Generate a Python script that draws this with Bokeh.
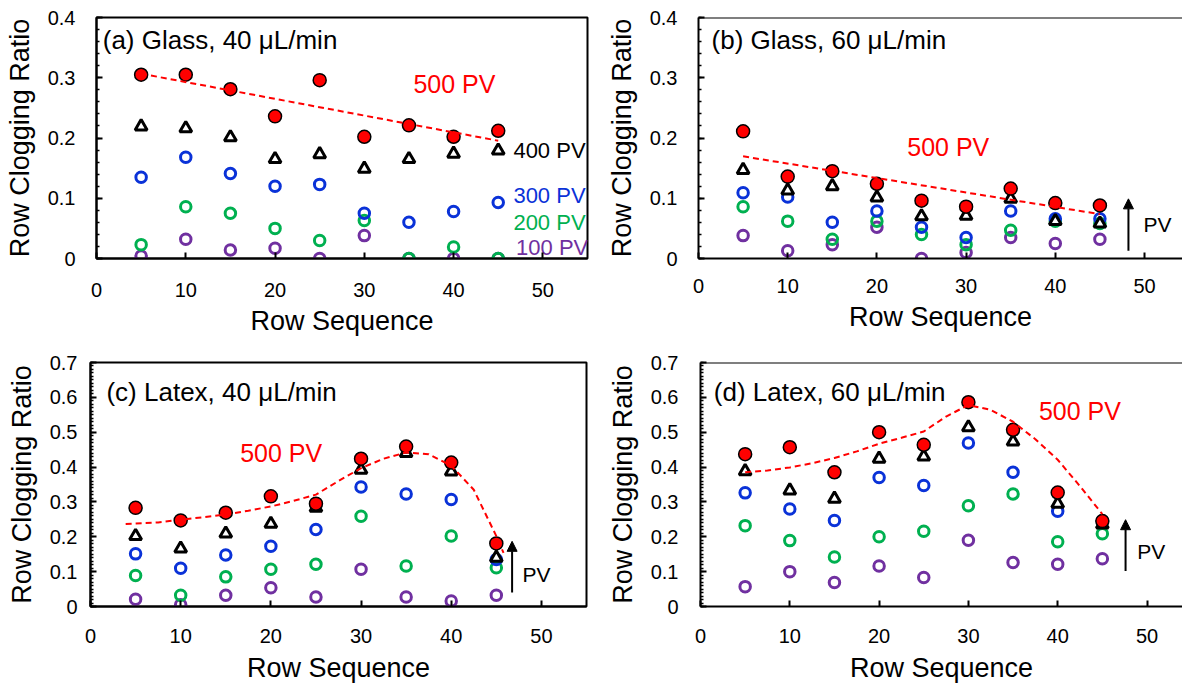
from bokeh.plotting import figure
from bokeh.layouts import column, row
from bokeh.models import (Range1d, SingleIntervalTicker, CustomJSTickFormatter, Arrow,
                          NormalHead, Span)
from bokeh.core.properties import value
from bokeh.embed import file_html
from bokeh.resources import INLINE
import numpy as np

# ---------------- data ----------------
rows = [5, 10, 15, 20, 25, 30, 35, 40, 45]

a_100 = [0.004, 0.032, 0.014, 0.017, 0.0, 0.038, 0.0, 0.0, 0.0]
a_200 = [0.023, 0.086, 0.075, 0.050, 0.030, 0.063, 0.0, 0.019, 0.0]
a_300 = [0.135, 0.168, 0.141, 0.120, 0.123, 0.075, 0.060, 0.078, 0.093]
a_400 = [0.219, 0.216, 0.201, 0.165, 0.173, 0.149, 0.165, 0.174, 0.179]
a_500 = [0.305, 0.305, 0.281, 0.236, 0.296, 0.202, 0.221, 0.202, 0.212]

b_100 = [0.038, 0.013, 0.023, 0.052, 0.0, 0.010, 0.035, 0.025, 0.032]
b_200 = [0.086, 0.062, 0.032, 0.062, 0.040, 0.023, 0.047, 0.062, 0.058]
b_300 = [0.109, 0.102, 0.060, 0.079, 0.052, 0.035, 0.079, 0.066, 0.066]
b_400 = [0.147, 0.113, 0.120, 0.101, 0.070, 0.071, 0.099, 0.062, 0.058]
b_500 = [0.211, 0.136, 0.145, 0.124, 0.096, 0.086, 0.116, 0.092, 0.088]

c_100 = [0.021, 0.005, 0.032, 0.054, 0.027, 0.107, 0.027, 0.016, 0.032]
c_200 = [0.089, 0.032, 0.085, 0.107, 0.121, 0.259, 0.116, 0.202, 0.111]
c_300 = [0.151, 0.110, 0.148, 0.173, 0.221, 0.343, 0.323, 0.307, 0.135]
c_400 = [0.202, 0.166, 0.209, 0.237, 0.283, 0.392, 0.440, 0.387, 0.140]
c_500 = [0.283, 0.247, 0.269, 0.316, 0.295, 0.424, 0.459, 0.413, 0.181]

d_100 = [0.057, 0.100, 0.069, 0.116, 0.083, 0.190, 0.126, 0.121, 0.137]
d_200 = [0.232, 0.189, 0.142, 0.200, 0.216, 0.289, 0.323, 0.186, 0.209]
d_300 = [0.326, 0.280, 0.247, 0.370, 0.347, 0.469, 0.385, 0.273, 0.245]
d_400 = [0.388, 0.333, 0.309, 0.424, 0.430, 0.514, 0.473, 0.295, 0.235]
d_500 = [0.437, 0.457, 0.385, 0.500, 0.464, 0.586, 0.507, 0.327, 0.245]

# dashed 500 PV guide curves of the latex panels
c_curve_x = [3.9, 7.5, 10, 12.5, 15, 17.5, 20, 22.5, 25, 27.5, 30, 32.5, 35,
             37.5, 40, 42.5, 45, 45.8]
c_curve_y = [0.237, 0.241, 0.249, 0.256, 0.264, 0.275, 0.287, 0.303, 0.321,
             0.360, 0.397, 0.424, 0.442, 0.437, 0.404, 0.335, 0.202, 0.154]
d_curve_x = [5, 7.5, 10, 12.5, 15, 17.5, 20, 22.5, 25, 27.5, 30, 32.5, 35,
             37.5, 40, 42.5, 45]
d_curve_y = [0.385, 0.390, 0.399, 0.411, 0.426, 0.445, 0.467, 0.484, 0.502,
             0.545, 0.578, 0.564, 0.530, 0.480, 0.421, 0.345, 0.265]

titles = ["(a) Glass, 40 μL/min", "(b) Glass, 60 μL/min",
          "(c) Latex, 40 μL/min", "(d) Latex, 60 μL/min"]
pv_labels = ["100 PV", "200 PV", "300 PV", "400 PV", "500 PV"]

# ---------------- style ----------------
FONT = "Liberation Sans"
C100 = "#7030A0"
C200 = "#00B050"
C300 = "#0A32D8"
RED = "#FF0000"


def make_panel(width, height, xend, yend, nminor, mbl, mbr, mbt, mbb,
               xstand, xlab_stand, ystand, full_box=True):
    ytop = yend + 1e-6  # keep the top tick label
    p = figure(width=width, height=height, x_range=Range1d(0, xend),
               y_range=Range1d(0, ytop), output_backend="svg",
               toolbar_location=None, min_border_left=mbl, min_border_right=mbr,
               min_border_top=mbt, min_border_bottom=mbb)
    p.xgrid.visible = False
    p.ygrid.visible = False
    p.background_fill_color = "white"
    p.border_fill_color = "white"
    if full_box:
        p.outline_line_color = "black"
        p.outline_line_width = 2
        p.outline_line_alpha = 1
    else:
        p.outline_line_color = None
        p.add_layout(Span(location=ytop, dimension="width", line_color="black",
                          line_width=2))

    xa = p.xaxis[0]
    xa.ticker = SingleIntervalTicker(interval=10, num_minor_ticks=0)
    xa.axis_label = "Row Sequence"
    xa.major_label_standoff = xstand
    xa.axis_label_standoff = xlab_stand
    ya = p.yaxis[0]
    ya.ticker = SingleIntervalTicker(interval=0.1, num_minor_ticks=nminor)
    ya.formatter = CustomJSTickFormatter(
        code="return (Math.abs(tick) < 1e-9) ? '0' : tick.toFixed(1);")
    ya.axis_label = "Row Clogging Ratio"
    ya.major_label_standoff = ystand
    ya.axis_label_standoff = 10
    for ax in (xa, ya):
        ax.axis_line_width = 2
        ax.axis_line_color = "black"
        ax.major_tick_in = 6
        ax.major_tick_out = 0
        ax.minor_tick_in = 3
        ax.minor_tick_out = 0
        ax.major_tick_line_width = 2
        ax.minor_tick_line_width = 1.5
        ax.major_tick_line_color = "black"
        ax.minor_tick_line_color = "black"
        ax.major_label_text_font = FONT
        ax.major_label_text_font_size = "20px"
        ax.major_label_text_color = "black"
        ax.axis_label_text_font = FONT
        ax.axis_label_text_font_size = "27px"
        ax.axis_label_text_font_style = "normal"
        ax.axis_label_text_color = "black"
    return p


def draw_points(p, s100, s200, s300, s400, s500):
    p.scatter(rows, s100, marker="circle", size=10.5, fill_color=None,
              line_color=C100, line_width=3)
    p.scatter(rows, s200, marker="circle", size=10.5, fill_color=None,
              line_color=C200, line_width=3)
    p.scatter(rows, s300, marker="circle", size=10.5, fill_color=None,
              line_color=C300, line_width=3)
    p.scatter(rows, s400, marker="triangle", size=12, fill_color="white",
              line_color="black", line_width=3)
    p.scatter(rows, s500, marker="circle", size=13, fill_color=RED,
              line_color="black", line_width=1.5)


def draw_curve(p, xs, ys):
    p.line(xs, ys, line_color=RED, line_width=2, line_dash="6 4")


def draw_linear_trend(p, s500):
    # least-squares linear trendline of the 500 PV series
    coef = np.polyfit(rows, s500, 1)
    xs = [rows[0], rows[-1]]
    p.line(xs, list(np.polyval(coef, xs)), line_color=RED, line_width=2,
           line_dash="6 4")


def add_text(p, x, y, txt, color="black", size="22px"):
    p.text(x=[x], y=[y], text=[txt], text_font=value(FONT),
           text_font_size=size, text_color=color, text_baseline="middle",
           text_align="left")


def add_pv_arrow(p, x, y0, y1, tx, ty):
    p.add_layout(Arrow(end=NormalHead(size=10, fill_color="black",
                                      line_color="black", line_width=1),
                       x_start=x, y_start=y0, x_end=x, y_end=y1,
                       line_color="black", line_width=2))
    add_text(p, tx, ty, "PV", "black", "21px")


H1 = 340
H2 = 685 - H1
WL = 600
WR = 1182 - WL

# (a)
pa = make_panel(WL, H1, 55, 0.4, 5, 96, WL - 587, 15, H1 - 258,
                xstand=24, xlab_stand=6, ystand=21)
draw_points(pa, a_100, a_200, a_300, a_400, a_500)
draw_linear_trend(pa, a_500)
add_text(pa, 0.7, 0.362, titles[0], "black", "26px")
add_text(pa, 35.5, 0.29, pv_labels[4], RED, "25px")
add_text(pa, 46.7, 0.179, pv_labels[3], "black", "22px")
add_text(pa, 46.7, 0.105, pv_labels[2], C300, "22px")
add_text(pa, 46.7, 0.060, pv_labels[1], C200, "22px")
add_text(pa, 47.0, 0.019, pv_labels[0], C100, "22px")

# (b)
pb = make_panel(WR, H1, (WR - 98) / 8.92, 0.4, 5, 98, 0, 17, H1 - 262,
                xstand=20, xlab_stand=6, ystand=21, full_box=False)
draw_points(pb, b_100, b_200, b_300, b_400, b_500)
draw_linear_trend(pb, b_500)
add_text(pb, 1.46, 0.363, titles[1], "black", "26px")
add_text(pb, 23.4, 0.185, pv_labels[4], RED, "25px")
add_pv_arrow(pb, 48.2, 0.013, 0.099, 49.9, 0.056)

# (c)
pc = make_panel(WL, H2, 55, 0.7, 10, 90, WL - 586, 362 - H1, H2 - (607 - H1),
                xstand=22, xlab_stand=7, ystand=13)
draw_points(pc, c_100, c_200, c_300, c_400, c_500)
draw_curve(pc, c_curve_x, c_curve_y)
add_text(pc, 1.77, 0.614, titles[2], "black", "26px")
add_text(pc, 16.6, 0.44, pv_labels[4], RED, "25px")
add_pv_arrow(pc, 46.75, 0.04, 0.187, 47.9, 0.092)

# (d)
pd = make_panel(WR, H2, (WR - 100) / 8.93, 0.7, 10, 100, 0, 362 - H1,
                H2 - (607 - H1), xstand=22, xlab_stand=7, ystand=22,
                full_box=False)
draw_points(pd, d_100, d_200, d_300, d_400, d_500)
draw_curve(pd, d_curve_x, d_curve_y)
add_text(pd, 1.49, 0.614, titles[3], "black", "26px")
add_text(pd, 37.9, 0.561, pv_labels[4], RED, "25px")
add_pv_arrow(pd, 47.6, 0.102, 0.249, 48.9, 0.159)

layout = column(row(pa, pb), row(pc, pd))
open("out.html", "w").write(file_html(layout, INLINE))
